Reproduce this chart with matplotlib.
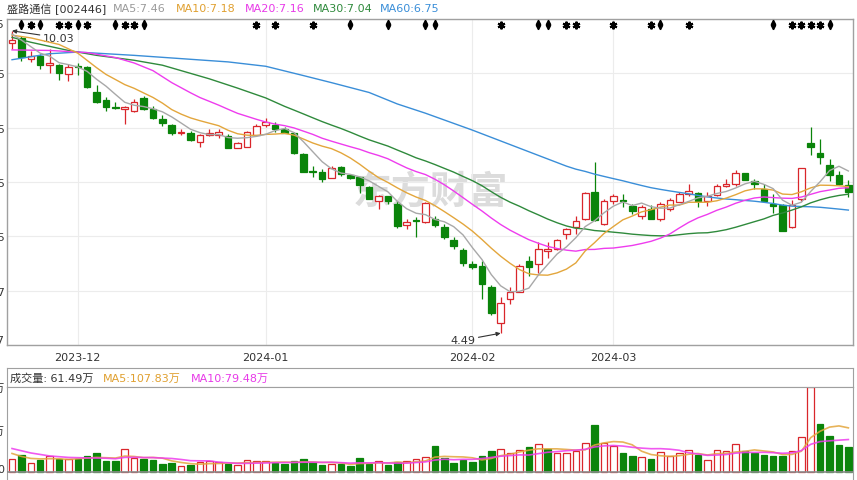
import matplotlib
matplotlib.use("Agg")
import matplotlib.pyplot as plt
import numpy as np

plt.rcParams['font.family'] = ['DejaVu Sans', 'Noto Sans CJK SC']

# ---- data ----
stock_title = '盛路通信 [002446]'
month_labels = ['2023-12', '2024-01', '2024-02', '2024-03']
month_days = [7, 27, 49, 64]

opens = [9.80, 9.89, 9.51, 9.57, 9.40, 9.40, 9.23, 9.38, 9.36, 8.91,
         8.77, 8.64, 8.60, 8.56, 8.79, 8.60, 8.41, 8.31, 8.15, 8.16,
         8.00, 8.12, 8.12, 8.10, 7.89, 7.91, 8.13, 8.30, 8.31, 8.23,
         8.16, 7.77, 7.46, 7.44, 7.33, 7.53, 7.39, 7.36, 7.16, 6.91,
         7.00, 6.86, 6.48, 6.57, 6.52, 6.58, 6.43, 6.20, 6.02, 5.76,
         5.73, 5.33, 4.67, 5.11, 5.25, 5.81, 5.75, 6.00, 6.04, 6.31,
         6.43, 6.59, 7.08, 6.49, 6.91, 6.93, 6.82, 6.63, 6.76, 6.59,
         6.76, 6.90, 7.04, 7.06, 6.92, 7.02, 7.18, 7.22, 7.42, 7.28,
         7.13, 6.85, 6.83, 6.43, 6.95, 7.97, 7.80, 7.57, 7.39, 7.20]
highs = [10.03, 9.93, 9.66, 9.60, 9.69, 9.42, 9.42, 9.44, 9.39, 9.03,
         8.81, 8.72, 8.66, 8.78, 8.84, 8.66, 8.48, 8.32, 8.23, 8.20,
         8.14, 8.23, 8.23, 8.14, 8.00, 8.19, 8.32, 8.43, 8.36, 8.26,
         8.18, 7.80, 7.56, 7.50, 7.55, 7.56, 7.41, 7.36, 7.18, 7.02,
         7.01, 6.92, 6.58, 6.61, 6.89, 6.63, 6.49, 6.25, 6.06, 5.82,
         5.82, 5.37, 5.16, 5.33, 5.76, 5.90, 6.16, 6.16, 6.22, 6.42,
         6.63, 7.08, 7.62, 6.95, 7.04, 7.04, 6.85, 6.84, 6.84, 6.89,
         6.96, 7.07, 7.22, 7.07, 7.07, 7.22, 7.31, 7.48, 7.43, 7.31,
         7.22, 7.04, 6.85, 6.93, 7.51, 8.26, 8.05, 7.68, 7.47, 7.30]
lows = [9.69, 9.47, 9.45, 9.33, 9.26, 9.13, 9.11, 9.22, 8.98, 8.70,
        8.56, 8.60, 8.32, 8.55, 8.58, 8.42, 8.29, 8.12, 8.12, 8.02,
        7.91, 8.10, 8.06, 7.88, 7.88, 7.91, 8.11, 8.26, 8.17, 8.15,
        7.77, 7.44, 7.36, 7.26, 7.33, 7.37, 7.31, 7.06, 6.95, 6.76,
        6.86, 6.41, 6.40, 6.25, 6.50, 6.43, 6.21, 6.04, 5.72, 5.67,
        5.12, 4.83, 4.49, 5.03, 5.25, 5.53, 5.59, 5.86, 6.02, 6.22,
        6.31, 6.57, 6.55, 6.47, 6.86, 6.80, 6.67, 6.58, 6.59, 6.55,
        6.73, 6.89, 7.01, 6.80, 6.82, 7.00, 7.16, 7.19, 7.29, 7.13,
        6.89, 6.70, 6.37, 6.41, 6.92, 7.75, 7.59, 7.28, 7.20, 6.99]
closes = [9.86, 9.55, 9.57, 9.41, 9.44, 9.26, 9.37, 9.36, 9.00, 8.72,
          8.63, 8.62, 8.63, 8.73, 8.60, 8.43, 8.34, 8.16, 8.17, 8.03,
          8.12, 8.16, 8.17, 7.89, 7.97, 8.17, 8.28, 8.36, 8.23, 8.16,
          7.80, 7.45, 7.44, 7.31, 7.51, 7.41, 7.33, 7.21, 6.95, 7.00,
          6.91, 6.46, 6.53, 6.54, 6.87, 6.47, 6.25, 6.08, 5.78, 5.70,
          5.40, 4.86, 5.05, 5.24, 5.73, 5.70, 6.04, 6.03, 6.20, 6.39,
          6.54, 7.06, 6.57, 6.92, 7.00, 6.92, 6.73, 6.80, 6.59, 6.86,
          6.93, 7.04, 7.10, 6.92, 7.00, 7.19, 7.22, 7.42, 7.30, 7.23,
          6.92, 6.82, 6.37, 6.83, 7.51, 7.91, 7.71, 7.39, 7.22, 7.08]
# volume in 万 shares
volumes = [32.0, 41.6, 22.4, 30.3, 38.5, 32.0, 32.0, 32.0, 38.5, 46.4,
           27.9, 27.9, 56.1, 33.7, 32.0, 30.3, 20.0, 22.4, 14.4, 17.6,
           24.1, 26.5, 24.1, 20.0, 17.6, 29.6, 26.5, 26.5, 22.4, 19.0,
           26.5, 32.0, 24.1, 17.6, 20.0, 20.0, 14.4, 34.4, 20.0, 26.5,
           17.6, 25.5, 26.5, 32.0, 36.1, 64.0, 34.4, 22.4, 29.6, 25.5,
           38.5, 52.0, 56.1, 46.4, 53.7, 60.2, 68.1, 56.1, 46.4, 46.4,
           52.0, 72.2, 113.8, 72.2, 62.6, 46.4, 38.5, 36.1, 32.0, 48.1,
           38.5, 46.4, 53.7, 41.6, 29.6, 54.4, 50.5, 69.8, 50.5, 46.4,
           41.6, 38.5, 38.5, 52.0, 85.1, 206.95, 116.2, 88.1, 66.4, 61.49]

price_ticklabels = ['4.27', '5.27', '6.25', '7.25', '8.25', '9.25', '10.25']

# moving-average values where the window starts before the first candle
ma_heads = {
    5: ([0, 1, 2, 3], [9.97, 9.86, 9.74, 9.62]),
    10: ([0, 2, 5, 7], [9.95, 9.90, 9.78, 9.62]),
    20: ([0, 4, 8, 11, 13, 15, 17], [9.68, 9.67, 9.63, 9.54, 9.44, 9.30, 9.08]),
    30: ([0, 2, 6, 9, 13, 16, 21, 24, 27], [9.91, 9.82, 9.67, 9.58, 9.49, 9.40, 9.15, 8.98, 8.80]),
    60: ([0, 4, 7, 13, 18, 23, 27, 31, 34, 38, 41, 44, 49, 54],
         [9.50, 9.61, 9.64, 9.58, 9.52, 9.46, 9.38, 9.21, 9.08, 8.90, 8.69, 8.52, 8.21, 7.88]),
}
vol_ma_heads = {
    5: ([0, 1, 2, 3], [45.7, 38.5, 33.7, 32.5]),
    10: ([0, 2, 4, 6, 8], [57.7, 46.9, 39.7, 36.1, 34.9]),
}

# event markers along the top edge
star_days = [2, 5, 6, 8, 12, 13, 26, 28, 32, 52, 59, 60, 64, 68, 72, 83, 84, 85, 86]
arrow_days = [1, 3, 7, 11, 14, 36, 40, 44, 45, 56, 57, 69, 81, 87]

RED = '#d9262b'
GREEN = '#0a840a'
MA_COLORS = {5: '#a8a8a8', 10: '#e3a63c', 20: '#ee3cee', 30: '#2f8a3c', 60: '#3a8ed8'}
MA_TEXT = {5: '#9a9a9a', 10: '#e0a030', 20: '#e83ae8', 30: '#2f8a3c', 60: '#3a8ed8'}
BORDER = '#a0a0a0'


def moving_avg(vals, n, head):
    vals = np.asarray(vals, dtype=float)
    idx = list(head[0]) + list(range(n - 1, len(vals)))
    calc = [vals[i - n + 1:i + 1].mean() for i in range(n - 1, len(vals))]
    return idx, list(head[1]) + calc


W, H = 857, 481
fig = plt.figure(figsize=(W / 100, H / 100), dpi=100)


def box(l, t, r, b):
    return [l / W, 1 - b / H, (r - l) / W, (b - t) / H]


ax = fig.add_axes(box(7.5, 20, 852.5, 346))
hdr = fig.add_axes(box(7.5, 369, 852.5, 388))
axv = fig.add_axes(box(7.5, 388, 852.5, 481))

o = np.array(opens)
h = np.array(highs)
l = np.array(lows)
c = np.array(closes)
v = np.array(volumes)
n = len(c)
x = np.arange(n)
up = c >= o

# ---- price panel ----
lo, hi = l.min(), h.max()
pad = (hi - lo) * 0.039
ax.set_ylim(lo - pad, hi + pad)
ax.set_xlim(-0.48, n - 0.56)
yt = np.linspace(lo - pad, hi + pad, 7)
ax.set_yticks(yt, price_ticklabels)
ax.set_xticks(month_days, month_labels)
ax.tick_params(axis='y', length=0, pad=2, labelsize=8, labelcolor='#333333')
ax.tick_params(axis='x', length=0, pad=5, labelsize=8, labelcolor='#333333')
tl = ax.get_yticklabels()
tl[0].set_va('bottom')
tl[-1].set_va('top')
ax.grid(True, color='#ececec', lw=0.8)
ax.set_axisbelow(True)
for s in ax.spines.values():
    s.set_color(BORDER)
    s.set_linewidth(1)

ax.text(0.50, 0.47, '东方财富', transform=ax.transAxes, fontsize=28,
        family='Noto Sans CJK SC', weight='bold', color='#dcdcdc',
        ha='center', va='center', zorder=0.5, style='italic')

col = [RED if u else GREEN for u in up]
ax.vlines(x, l, h, colors=col, lw=0.9, zorder=2)
ax.bar(x, np.maximum(np.abs(c - o), 0.006), bottom=np.minimum(o, c), width=0.7,
       color=['white' if u else GREEN for u in up], edgecolor=col, linewidth=0.9, zorder=3)

for period in [60, 30, 20, 10, 5]:
    mi, mv = moving_avg(c, period, ma_heads[period])
    ax.plot(mi, mv, color=MA_COLORS[period], lw=1.0, zorder=4)

imax, imin = int(np.argmax(h)), int(np.argmin(l))
arrow = dict(arrowstyle='-|>', color='#333333', lw=0.8, mutation_scale=6, shrinkA=0, shrinkB=0)
ax.annotate(f'{h[imax]:.2f}', xy=(imax, h[imax]), xytext=(22, -5), textcoords='offset points',
            fontsize=8, color='#333333', va='center', ha='left', arrowprops=arrow)
ax.annotate(f'{l[imin]:.2f}', xy=(imin, l[imin]), xytext=(-18, -5), textcoords='offset points',
            fontsize=8, color='#333333', va='center', ha='right', arrowprops=arrow)

top = ax.get_xaxis_transform()
ax.plot(star_days, [0.983] * len(star_days), ls='none', marker=(6, 2, 0), ms=5.5,
        mew=1.5, color='black', transform=top, clip_on=False, zorder=5)
ax.plot(arrow_days, [0.991] * len(arrow_days), ls='none', marker='^', ms=3.2,
        color='black', transform=top, clip_on=False, zorder=5)
ax.plot(arrow_days, [0.975] * len(arrow_days), ls='none', marker='v', ms=3.2,
        color='black', transform=top, clip_on=False, zorder=5)

# header line
ma_now = {p: c[-p:].mean() for p in [5, 10, 20, 30, 60]}
fig.text(7 / W, 1 - 9 / H, stock_title, fontsize=8, color='#333333', va='center')
for p, px in zip([5, 10, 20, 30, 60], [113, 176, 245, 313, 380]):
    fig.text(px / W, 1 - 9 / H, f'MA{p}:{ma_now[p]:.2f}', fontsize=8, color=MA_TEXT[p], va='center')

# ---- volume panel ----
vol_up = np.r_[c[0] >= o[0], c[1:] >= c[:-1]]
vcol = [RED if u else GREEN for u in vol_up]
axv.bar(x, v, width=0.7, color=['white' if u else GREEN for u in vol_up],
        edgecolor=vcol, linewidth=0.9, zorder=2)
vmax = v.max()
axv.set_ylim(-vmax * 7.7 / 85.3, vmax)
axv.set_xlim(ax.get_xlim())
axv.axhline(0, color='#8c8c8c', lw=1.2, zorder=3)
vm5 = moving_avg(v, 5, vol_ma_heads[5])
vm10 = moving_avg(v, 10, vol_ma_heads[10])
axv.plot(*vm5, color='#e3a63c', lw=1.2, alpha=0.85, zorder=4)
axv.plot(*vm10, color='#ee3cee', lw=1.2, alpha=0.85, zorder=4)
axv.set_yticks([0, vmax / 2, vmax], ['0', f'{vmax / 2:.0f}万', f'{vmax:.0f}万'])
axv.set_xticks([])
axv.tick_params(axis='y', length=0, pad=2, labelsize=8, labelcolor='#333333')
axv.get_yticklabels()[0].set_va('baseline')
for s in axv.spines.values():
    s.set_color(BORDER)
axv.spines['bottom'].set_visible(False)

hdr.set_xticks([])
hdr.set_yticks([])
for s in hdr.spines.values():
    s.set_color(BORDER)
hdr.text(2.5 / 845, 0.5, f'成交量: {v[-1]:.2f}万', fontsize=8, color='#333333', va='center',
         transform=hdr.transAxes)
hdr.text(95.5 / 845, 0.5, f'MA5:{v[-5:].mean():.2f}万', fontsize=8, color='#e0a030', va='center',
         transform=hdr.transAxes)
hdr.text(183.5 / 845, 0.5, f'MA10:{v[-10:].mean():.2f}万', fontsize=8, color='#e83ae8', va='center',
         transform=hdr.transAxes)

fig.savefig('out.png', dpi=100)
